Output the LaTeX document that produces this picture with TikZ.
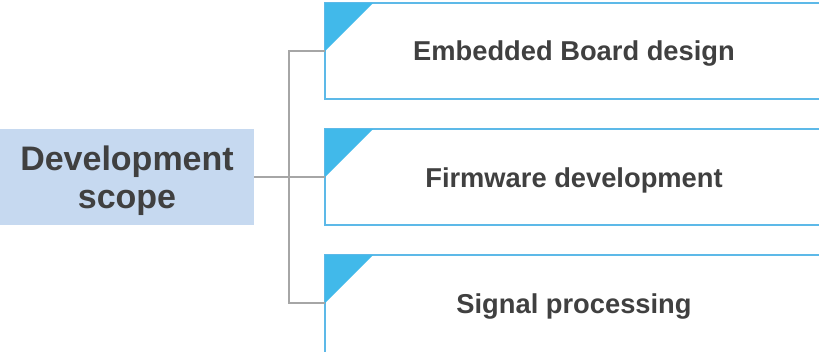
\documentclass[tikz,border=0pt]{standalone}
\usepackage{fontspec}
\usetikzlibrary{calc}
\setmainfont{Liberation Sans}
\definecolor{txt}{HTML}{404040}
\definecolor{devfill}{HTML}{C6D9F0}
\definecolor{tri}{HTML}{41B9EA}
\definecolor{boxline}{HTML}{5DB9E8}
\definecolor{conn}{HTML}{A6A6A6}
\tikzset{
  devbox/.style={rectangle, fill=devfill, inner sep=0pt, outer sep=0pt, minimum width=254pt, minimum height=96pt},
  itembox/.style={rectangle, draw=boxline, line width=1.2pt, fill=white, inner sep=0pt, outer sep=0pt, minimum width=500pt, minimum height=96pt},
  itemtext/.style={anchor=base, text=txt, font=\bfseries\fontsize{27.3}{30}\selectfont, inner sep=0pt},
  devtext/.style={text=txt, font=\bfseries\fontsize{34}{38}\selectfont, align=center, inner sep=0pt, anchor=base},
  connector/.style={draw=conn, line width=2.4pt},
  corner/.style={fill=tri}
}
\begin{document}
\begin{tikzpicture}[x=1pt, y=-1pt]
\useasboundingbox (0,0) rectangle (819,351);
\clip (0,0) rectangle (819,351);
\node[devbox] (dev) at (127,177) {};
\node[devtext] (devt) at (127,208) {Development\\scope};
\node[itembox] (b1) at (575,51) {};
\node[itembox] (b2) at (575,177) {};
\node[itembox, minimum height=104pt] (b3) at (575,307) {};
\foreach \b in {b1,b2,b3}{
  \coordinate (\b tip) at ($(\b.north west)+(0,48)$);
  \fill[corner] (\b.north west) -- ++(48,0) -- (\b tip) -- cycle;
}
\coordinate (hub) at (289,177);
\draw[connector] (dev.east) -- (hub);
\draw[connector] (hub) |- (b1tip);
\draw[connector] (hub) -- (b2tip);
\draw[connector] (hub) |- (b3tip);
\node[itemtext] (t1) at (574,60) {Embedded Board design};
\node[itemtext] (t2) at (574,187) {Firmware development};
\node[itemtext] (t3) at (574,313) {Signal processing};
\end{tikzpicture}
\end{document}
